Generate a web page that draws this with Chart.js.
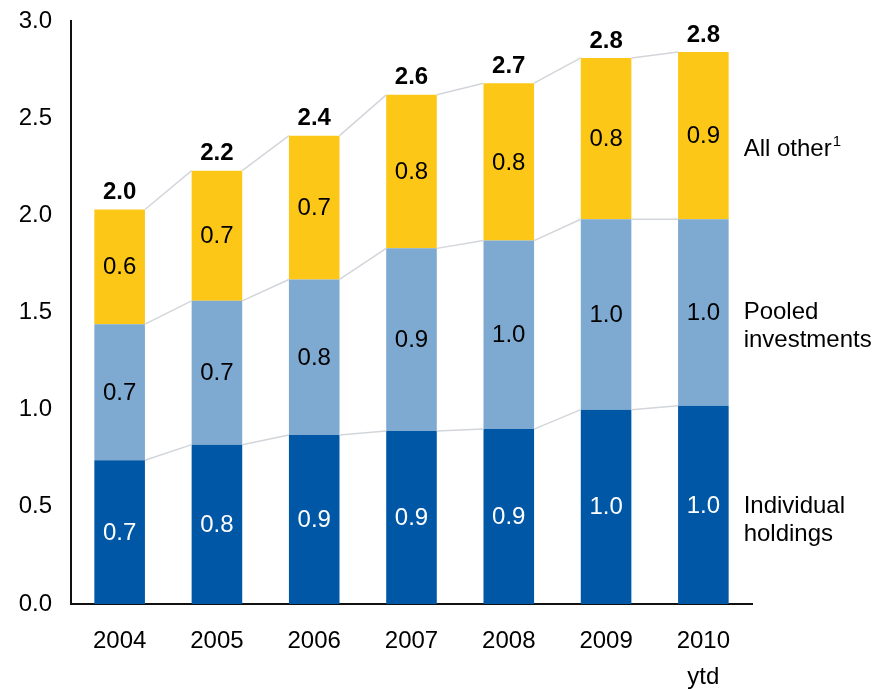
<!DOCTYPE html>
<html>
<head>
<meta charset="utf-8">
<script src="https://cdn.jsdelivr.net/npm/chart.js@4.4.1/dist/chart.umd.min.js"></script>
<style>
  html, body { margin: 0; padding: 0; background: #fff; }
  #wrap { width: 872px; height: 689px; }
</style>
</head>
<body>
<div id="wrap"><canvas id="assetsChart"></canvas></div>
<script>
const years = ['2004', '2005', '2006', '2007', '2008', '2009', ['2010', 'ytd']];
const individual = [0.74, 0.82, 0.87, 0.89, 0.90, 1.00, 1.02];
const pooled = [0.70, 0.74, 0.80, 0.94, 0.97, 0.98, 0.96];
const allOther = [0.59, 0.67, 0.74, 0.79, 0.81, 0.83, 0.86];
const seriesLines = [['Individual', 'holdings'], ['Pooled', 'investments'], ['All other']];
const seriesNotes = ['', '', '1'];

const FONT = "'Liberation Sans', Arial, Helvetica, sans-serif";
const colors = ['#0057a5', '#7eaad2', '#fcc717'];
const textColors = ['#ffffff', '#000000', '#000000'];

function fmt(v) {
  return (Math.round(v * 10) / 10).toFixed(1);
}

const overlay = {
  id: 'overlay',
  afterDatasetsDraw(chart) {
    const ctx = chart.ctx;
    const metas = [0, 1, 2].map(i => chart.getDatasetMeta(i));
    const values = [individual, pooled, allOther];

    // connector lines between segment tops
    ctx.save();
    ctx.strokeStyle = '#d2d5da';
    ctx.lineWidth = 1.5;
    metas.forEach(meta => {
      for (let j = 0; j < meta.data.length - 1; j++) {
        const a = meta.data[j], b = meta.data[j + 1];
        ctx.beginPath();
        ctx.moveTo(a.x + a.width / 2, a.y);
        ctx.lineTo(b.x - b.width / 2, b.y);
        ctx.stroke();
      }
    });
    ctx.restore();

    // values inside segments
    ctx.save();
    ctx.textAlign = 'center';
    ctx.textBaseline = 'middle';
    ctx.font = '24px ' + FONT;
    metas.forEach((meta, i) => {
      ctx.fillStyle = textColors[i];
      meta.data.forEach((bar, j) => {
        ctx.fillText(fmt(values[i][j]), bar.x, (bar.y + bar.base) / 2 + 1);
      });
    });

    // totals
    ctx.font = 'bold 24px ' + FONT;
    ctx.fillStyle = '#000';
    metas[2].data.forEach((bar, j) => {
      const total = individual[j] + pooled[j] + allOther[j];
      ctx.fillText(fmt(total), bar.x, bar.y - 17);
    });

    // series names on the right
    ctx.textAlign = 'left';
    const offsets = [1, 0, 14];
    metas.forEach((meta, i) => {
      const bar = meta.data[meta.data.length - 1];
      const x = bar.x + bar.width / 2 + 15;
      const y = (bar.y + bar.base) / 2 + offsets[i];
      seriesLines[i].forEach((line, k) => {
        ctx.font = '24px ' + FONT;
        ctx.fillText(line, x, y + k * 28);
        if (k === seriesLines[i].length - 1 && seriesNotes[i]) {
          const w = ctx.measureText(line).width;
          ctx.font = '15px ' + FONT;
          ctx.fillText(seriesNotes[i], x + w + 1, y + k * 28 - 8);
        }
      });
    });
    ctx.restore();
  }
};

new Chart(document.getElementById('assetsChart'), {
  type: 'bar',
  data: {
    labels: years,
    datasets: [
      { label: 'Individual holdings', data: individual, backgroundColor: colors[0] },
      { label: 'Pooled investments', data: pooled, backgroundColor: colors[1] },
      { label: 'All other', data: allOther, backgroundColor: colors[2] }
    ]
  },
  options: {
    responsive: true,
    maintainAspectRatio: false,
    animation: false,
    datasets: { bar: { barPercentage: 0.52, categoryPercentage: 1 } },
    layout: { padding: { top: 21, right: 120, left: 0, bottom: 0 } },
    plugins: { legend: { display: false }, tooltip: { enabled: false } },
    scales: {
      x: {
        stacked: true,
        grid: { display: false, drawTicks: false },
        border: { display: true, color: '#111', width: 2 },
        ticks: {
          color: '#000',
          padding: 19,
          maxRotation: 0,
          font: { family: FONT, size: 24, lineHeight: 1.5 }
        },
        afterFit: s => { s.height = 85; }
      },
      y: {
        stacked: true,
        min: 0,
        max: 3,
        grid: { display: false, drawTicks: false },
        border: { display: true, color: '#111', width: 2 },
        ticks: {
          stepSize: 0.5,
          color: '#000',
          padding: 19,
          font: { family: FONT, size: 24 },
          callback: v => v.toFixed(1)
        },
        afterFit: s => { s.width = 71; s.paddingTop = 0; s.paddingBottom = 0; }
      }
    }
  },
  plugins: [overlay]
});
</script>
</body>
</html>
